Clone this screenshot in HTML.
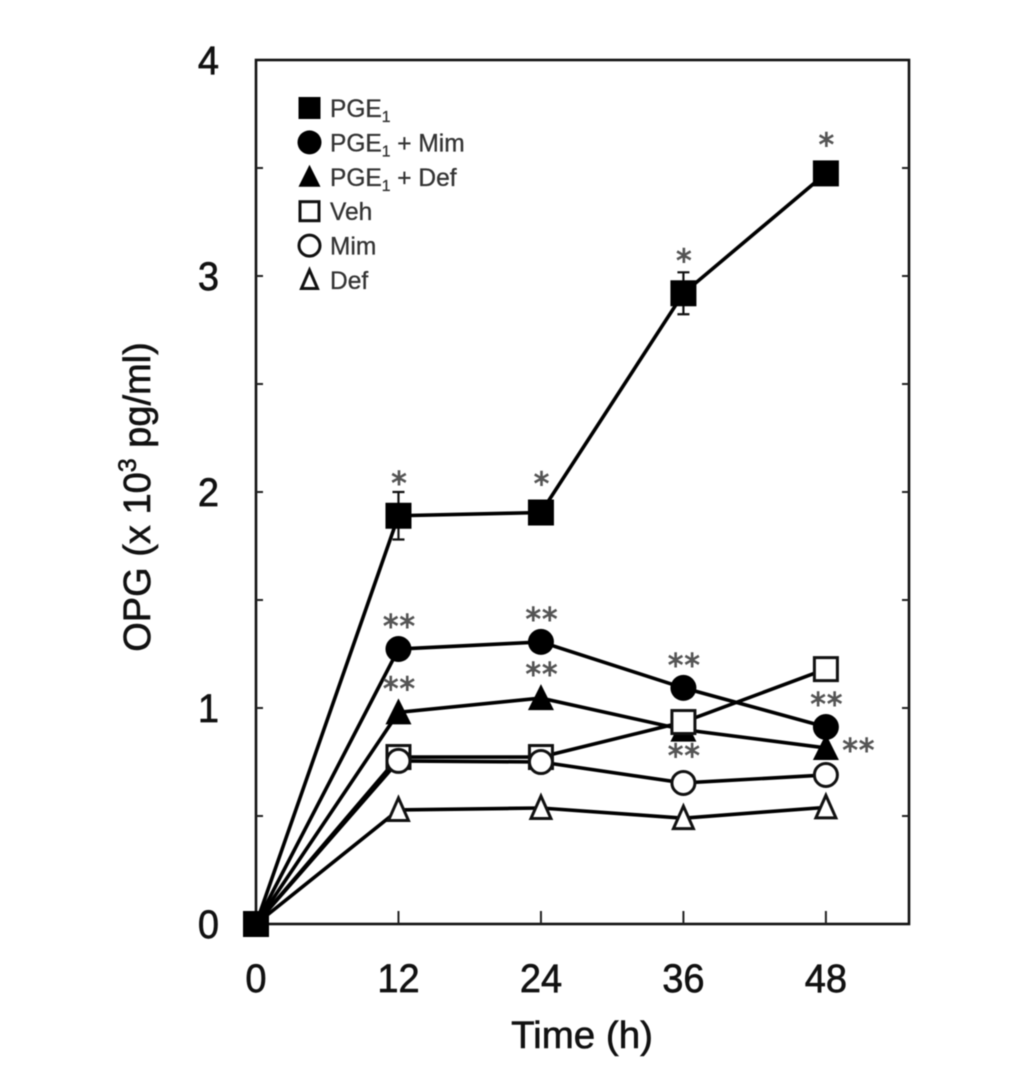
<!DOCTYPE html>
<html>
<head>
<meta charset="utf-8">
<title>OPG over time</title>
<style>
html,body{margin:0;padding:0;background:#fff;width:1033px;height:1084px;overflow:hidden}
svg{display:block;filter:blur(0.6px)}
text{font-family:"Liberation Sans",sans-serif;fill:#111}
</style>
</head>
<body>
<svg id="chart" xmlns="http://www.w3.org/2000/svg" width="1033" height="1084" viewBox="0 0 1033 1084">
<rect width="1033" height="1084" fill="#fff"/>
<text transform="translate(150,497) rotate(-90)" text-anchor="middle" font-size="38" stroke="#111" stroke-width="0.6">OPG (x 10<tspan font-size="25" dy="-14">3</tspan><tspan dy="14"> pg/ml)</tspan></text>
<text transform="translate(582,1048) scale(1,0.98)" text-anchor="middle" font-size="38.5" stroke="#111" stroke-width="0.6">Time (h)</text>
</svg>
<script>
var hours = [0, 12, 24, 36, 48];
var seriesNames = ['PGE1', 'PGE1 + Mim', 'PGE1 + Def', 'Veh', 'Mim', 'Def'];
var pge = [0, 1.89, 1.905, 2.92, 3.475];
var pgeMim = [0, 1.273, 1.306, 1.093, 0.912];
var pgeDef = [0, 0.98, 1.046, 0.90, 0.815];
var veh = [0, 0.773, 0.773, 0.935, 1.18];
var mim = [0, 0.755, 0.75, 0.653, 0.69];
var def = [0, 0.528, 0.537, 0.49, 0.54];
var pgeErr = [0, 0.11, 0, 0.097, 0];
var pgeSig = ['', '*', '*', '*', '*'];
var pgeMimSig = ['', '**', '**', '**', '**'];
var pgeDefSig = ['', '**', '**', '**', '**'];
var pgeDefSigSide = ['', 'above', 'above', 'below', 'right'];
var xTicks = [0, 12, 24, 36, 48];
var yTicks = [0, 0.5, 1, 1.5, 2, 2.5, 3, 3.5, 4];
var yLabels = [0, 1, 2, 3, 4];
var xMax = 55;
var yMax = 4;

var plotLeft = 256, plotRight = 909, plotTop = 60, plotBottom = 924;
function xs(v) { return plotLeft + (plotRight - plotLeft) * v / xMax; }
function ys(v) { return plotBottom - (plotBottom - plotTop) * v / yMax; }

var svg = document.getElementById('chart');
var NS = 'http://www.w3.org/2000/svg';
function mk(tag, parent) {
  var e = document.createElementNS(NS, tag);
  (parent || svg).appendChild(e);
  return e;
}
function setA(e, k, v) { e.setAttribute(k, v); }

function marker(parent, kind, filled, cx, cy, size) {
  var s, r = size / 2;
  var sw = 3;
  if (kind === 'square') {
    s = mk('rect', parent);
    var a = filled ? r : r - sw / 2;
    setA(s, 'x', cx - a); setA(s, 'y', cy - a);
    setA(s, 'width', 2 * a); setA(s, 'height', 2 * a);
  } else if (kind === 'circle') {
    s = mk('circle', parent);
    setA(s, 'cx', cx); setA(s, 'cy', cy);
    setA(s, 'r', filled ? r : r - sw / 2);
  } else {
    s = mk('polygon', parent);
    var b = filled ? r : r - sw;
    var top = filled ? r + 1 : r - 1;
    var bot = filled ? r - 1 : r - 2.5;
    setA(s, 'points', (cx - b) + ',' + (cy + bot) + ' ' + (cx + b) + ',' + (cy + bot) + ' ' + cx + ',' + (cy - top));
  }
  setA(s, 'fill', filled ? '#000' : '#fff');
  if (!filled) { setA(s, 'stroke', '#111'); setA(s, 'stroke-width', sw); setA(s, 'stroke-linejoin', 'miter'); }
  return s;
}

/* axes frame */
var frame = mk('rect');


setA(frame, 'x', plotLeft); setA(frame, 'y', plotTop);
setA(frame, 'width', plotRight - plotLeft); setA(frame, 'height', plotBottom - plotTop);
setA(frame, 'fill', 'none'); setA(frame, 'stroke', '#111'); setA(frame, 'stroke-width', 2.6);

/* ticks */
yTicks.forEach(function (t) {
  if (t === 0 || t === yMax) return;
  [[plotLeft, 1], [plotRight, -1]].forEach(function (side) {
    var l = mk('line');
    
    
    setA(l, 'x1', side[0]); setA(l, 'x2', side[0] + side[1] * 7);
    setA(l, 'y1', ys(t)); setA(l, 'y2', ys(t));
    setA(l, 'stroke', '#222'); setA(l, 'stroke-width', 2);
  });
});
xTicks.forEach(function (t) {
  if (t === 0) return;
  var l = mk('line');
  
  
  setA(l, 'x1', xs(t)); setA(l, 'x2', xs(t));
  setA(l, 'y1', plotBottom); setA(l, 'y2', plotBottom - 13);
  setA(l, 'stroke', '#222'); setA(l, 'stroke-width', 2);
});
xTicks.forEach(function (t) {
  var l = mk('text');
  
  
  setA(l, 'transform', 'translate(' + xs(t) + ',992) scale(1,1.06)');
  setA(l, 'text-anchor', 'middle');
  setA(l, 'font-size', 38);
  setA(l, 'stroke', '#111'); setA(l, 'stroke-width', 0.6);
  l.textContent = t;
});
yLabels.forEach(function (t) {
  var l = mk('text');
  
  
  setA(l, 'transform', 'translate(219,' + (ys(t) + 14) + ') scale(1,1.06)');
  setA(l, 'text-anchor', 'end');
  setA(l, 'font-size', 38);
  setA(l, 'stroke', '#111'); setA(l, 'stroke-width', 0.6);
  l.textContent = t;
});

/* series: drawn so that PGE1 sits on top at the origin */
var drawOrder = [
  { vals: pgeMim, kind: 'circle', filled: true, name: 'pge-mim' },
  { vals: pgeDef, kind: 'triangle', filled: true, name: 'pge-def' },
  { vals: veh, kind: 'square', filled: false, name: 'veh' },
  { vals: mim, kind: 'circle', filled: false, name: 'mim' },
  { vals: def, kind: 'triangle', filled: false, name: 'def' },
  { vals: pge, kind: 'square', filled: true, name: 'pge' }
];
drawOrder.forEach(function (sr) {
  var g = mk('g');
  
  
  var p = mk('polyline', g);
  
  
  setA(p, 'points', sr.vals.map(function (v, i) { return xs(hours[i]) + ',' + ys(v); }).join(' '));
  setA(p, 'fill', 'none'); setA(p, 'stroke', '#000'); setA(p, 'stroke-width', 3.6);
  if (sr.name === 'pge') {
    pgeErr.forEach(function (e, i) {
      if (!e) return;
      var x = xs(hours[i]);
      var bar = mk('path', g);
      
      
      var t = ys(pge[i] + e), b = ys(pge[i] - e);
      setA(bar, 'd', 'M' + x + ' ' + t + 'V' + b + 'M' + (x - 6) + ' ' + t + 'H' + (x + 6) + 'M' + (x - 6) + ' ' + b + 'H' + (x + 6));
      setA(bar, 'stroke', '#111'); setA(bar, 'stroke-width', 2.2); setA(bar, 'fill', 'none');
    });
  }
  sr.vals.forEach(function (v, i) {
    var m = marker(g, sr.kind, sr.filled, xs(hours[i]), ys(v), 26);
    
    
  });
});

/* significance marks */
function sigText(label, x, y) {
  var t = mk('text');
  
  
  setA(t, 'x', x); setA(t, 'y', y);
  setA(t, 'text-anchor', 'middle');
  setA(t, 'font-size', 31);
  setA(t, 'letter-spacing', '1');
  setA(t, 'stroke', '#555');
  setA(t, 'stroke-width', 0.9);
  t.style.fontFamily = '"DejaVu Sans",sans-serif';
  t.style.fill = '#555';
  t.textContent = label;
}
pgeSig.forEach(function (s, i) {
  if (s) sigText(s, xs(hours[i]) + 1, ys(pge[i]) - (pgeErr[i] ? 22 : 18));
});
pgeMimSig.forEach(function (s, i) {
  if (s) sigText(s, xs(hours[i]) + 1, ys(pgeMim[i]) - 12);
});
pgeDefSig.forEach(function (s, i) {
  if (!s) return;
  var side = pgeDefSigSide[i];
  if (side === 'above') sigText(s, xs(hours[i]) + 1, ys(pgeDef[i]) - 13);
  if (side === 'below') sigText(s, xs(hours[i]) + 1, ys(pgeDef[i]) + 37);
  if (side === 'right') sigText(s, xs(hours[i]) + 33, ys(pgeDef[i]) + 13);
});

/* legend */
var legendKinds = ['square', 'circle', 'triangle', 'square', 'circle', 'triangle'];
var legendFilled = [true, true, true, false, false, false];
var legend = mk('g');


seriesNames.forEach(function (name, i) {
  var cy = 108 + i * 34.4;
  var e = mk('g', legend);
  
  
  var m = marker(e, legendKinds[i], legendFilled[i], 309.5, cy, legendKinds[i] === 'circle' ? 24 : 22);
  
  
  var t = mk('text', e);
  
  
  setA(t, 'transform', 'translate(330,' + (cy + 9) + ') scale(0.98,1)');
  setA(t, 'font-size', 25);
  setA(t, 'stroke', '#333');
  setA(t, 'stroke-width', 0.3);
  t.style.fill = '#333';
  var parts = name.split('1');
  t.appendChild(document.createTextNode(parts[0]));
  if (parts.length > 1) {
    var sub = mk('tspan', t);
    setA(sub, 'font-size', 16);
    setA(sub, 'dy', 5);
    sub.textContent = '1';
    var rest = mk('tspan', t);
    setA(rest, 'dy', -5);
    rest.textContent = parts[1];
  }
});
</script>
</body>
</html>
